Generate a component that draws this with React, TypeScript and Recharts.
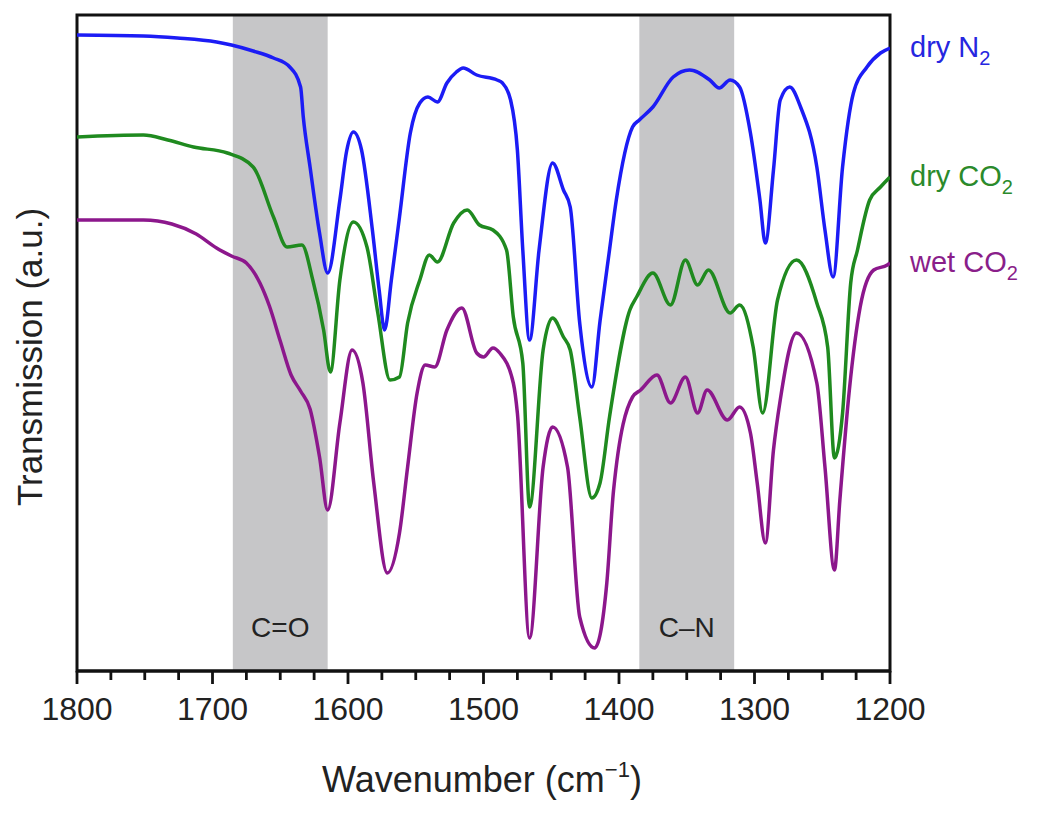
import React from 'react';
import { LineChart, Line, XAxis, YAxis, ReferenceArea, Label } from 'recharts';

// wavenumbers (cm-1) and transmission (a.u.)
const dryN2Wn = [1800, 1751, 1726, 1697, 1686, 1670, 1655, 1643, 1635, 1633, 1628, 1621, 1615, 1606, 1601, 1596, 1590, 1582, 1577, 1573, 1568, 1562, 1554, 1547, 1541, 1534, 1527, 1520, 1515, 1505, 1490, 1486, 1480, 1475, 1471, 1466, 1459, 1449, 1441, 1436, 1429, 1420, 1414, 1407, 1402, 1390, 1385, 1375, 1360, 1348, 1333, 1326, 1318, 1311, 1303, 1296, 1292, 1286, 1281, 1274, 1266, 1254, 1248, 1242, 1235, 1227, 1217, 1207, 1200];
const dryN2T = [636, 635, 633, 629, 626, 620, 613, 604, 584, 554, 504, 438, 398, 471, 520, 539, 521, 441, 381, 341, 391, 454, 538, 568, 574, 569, 588, 599, 603, 596, 591, 588, 571, 521, 421, 331, 421, 508, 481, 464, 348, 284, 350, 421, 471, 544, 551, 564, 594, 601, 591, 583, 591, 584, 538, 471, 428, 501, 571, 584, 564, 504, 441, 394, 504, 578, 604, 618, 623];

const dryCO2Wn = [1800, 1751, 1733, 1714, 1689, 1670, 1655, 1645, 1634, 1626, 1618, 1613, 1606, 1596, 1586, 1578, 1569, 1562, 1556, 1547, 1540, 1534, 1522, 1512, 1503, 1493, 1483, 1478, 1471, 1466, 1456, 1449, 1441, 1436, 1429, 1420, 1414, 1407, 1392, 1387, 1375, 1362, 1351, 1342, 1334, 1318, 1311, 1301, 1294, 1283, 1269, 1254, 1246, 1241, 1235, 1229, 1224, 1215, 1207, 1200];
const dryCO2T = [534, 536, 531, 524, 518, 504, 454, 424, 426, 391, 341, 299, 391, 449, 424, 358, 291, 294, 348, 391, 416, 409, 448, 461, 446, 441, 421, 354, 308, 164, 321, 353, 334, 321, 254, 173, 188, 254, 361, 374, 398, 366, 411, 386, 401, 358, 366, 324, 258, 371, 411, 368, 324, 213, 258, 388, 421, 471, 484, 494];

const wetCO2Wn = [1800, 1751, 1730, 1712, 1697, 1686, 1675, 1665, 1658, 1650, 1642, 1635, 1628, 1621, 1615, 1606, 1597, 1589, 1581, 1571, 1562, 1556, 1549, 1543, 1536, 1527, 1516, 1505, 1500, 1493, 1488, 1478, 1475, 1466, 1456, 1449, 1438, 1429, 1418, 1409, 1404, 1390, 1384, 1372, 1362, 1351, 1342, 1335, 1320, 1311, 1303, 1298, 1292, 1286, 1281, 1269, 1254, 1248, 1241, 1237, 1230, 1222, 1212, 1202, 1200];
const wetCO2T = [451, 451, 447, 437, 423, 415, 408, 388, 365, 330, 296, 280, 262, 214, 161, 248, 321, 288, 188, 98, 138, 204, 278, 306, 304, 341, 363, 318, 314, 323, 318, 288, 258, 33, 204, 244, 204, 54, 23, 88, 181, 274, 281, 296, 268, 294, 258, 281, 251, 264, 238, 188, 128, 221, 271, 338, 288, 204, 101, 171, 281, 364, 401, 406, 408];

const series = [
  { name: 'dry N', sub: '2', color: '#1c1cf5', text: '#2626e0', wn: dryN2Wn, t: dryN2T },
  { name: 'dry CO', sub: '2', color: '#1f8a1f', text: '#2b8a2b', wn: dryCO2Wn, t: dryCO2T },
  { name: 'wet CO', sub: '2', color: '#8c178c', text: '#8a1e8a', wn: wetCO2Wn, t: wetCO2T },
];

const bands = [
  { from: 1685, to: 1615, label: 'C=O' },
  { from: 1385, to: 1315, label: 'C\u2013N' },
];

const majorTicks = [1800, 1700, 1600, 1500, 1400, 1300, 1200];
const minorTicks = [1775, 1750, 1725, 1675, 1650, 1625, 1575, 1550, 1525, 1475, 1450, 1425, 1375, 1350, 1325, 1275, 1250, 1225];

const FONT = '"Liberation Sans", Arial, Helvetica, sans-serif';

const WnTick = (props: any) => {
  const { x, y, payload } = props;
  const major = majorTicks.includes(payload.value);
  return (
    <g>
      <line x1={x} x2={x} y1={y} y2={y + (major ? 13 : 9)} stroke="#111" strokeWidth={2.8} />
      {major && (
        <text x={x} y={y + 49} textAnchor="middle" fontSize={32} fontFamily={FONT} fill="#222">
          {payload.value}
        </text>
      )}
    </g>
  );
};

const App = () => {
  return (
    <LineChart
      width={1034}
      height={797}
      margin={{ top: 7, right: 152, bottom: 0, left: 0 }}
      style={{ fontFamily: FONT }}
    >
      <XAxis
        type="number"
        dataKey="wn"
        domain={[1200, 1800]}
        reversed
        allowDataOverflow
        ticks={[...majorTicks, ...minorTicks].sort((a, b) => b - a)}
        interval={0}
        tick={<WnTick />}
        tickSize={0}
        tickMargin={0}
        tickLine={false}
        axisLine={{ stroke: '#111', strokeWidth: 3 }}
        height={134}
      >
        <Label
          content={() => (
            <text x={474} y={784} textAnchor="middle" fontSize={36} fontFamily={FONT} fill="#222">
              Wavenumber (cm
              <tspan fontSize={22} dy={-15}>{'\u22121'}</tspan>
              <tspan dy={15}>)</tspan>
            </text>
          )}
        />
      </XAxis>
      <YAxis type="number" domain={[0, 656]} width={69} tick={false} axisLine={false} tickLine={false}>
        <Label
          content={() => (
            <text
              x={34}
              y={349}
              transform="rotate(-90, 34, 349)"
              textAnchor="middle"
              fontSize={35}
              fontFamily={FONT}
              fill="#222"
            >
              Transmission (a.u.)
            </text>
          )}
        />
      </YAxis>
      {bands.map((b) => (
        <ReferenceArea
          key={b.label}
          x1={b.from}
          x2={b.to}
          y1={0}
          y2={656}
          fill="#c6c6c8"
          fillOpacity={1}
          stroke="none"
          ifOverflow="hidden"
          label={{ value: b.label, position: 'insideBottom', offset: 34, fontSize: 28, fill: '#222', fontFamily: FONT }}
        />
      ))}
      {series.map((s) => {
        const pts = s.wn.map((w, i) => ({ wn: w, t: s.t[i] }));
        const last = pts.length - 1;
        return (
          <Line
            key={s.name}
            data={pts}
            dataKey="t"
            type="monotone"
            stroke={s.color}
            strokeWidth={3.5}
            dot={false}
            isAnimationActive={false}
            label={(p: any) =>
              p.index === last ? (
                <text key="lbl" x={p.x + 20} y={p.y + 9} fontSize={29} fontFamily={FONT} fill={s.text}>
                  {s.name}
                  <tspan fontSize={20} dy={8}>{s.sub}</tspan>
                </text>
              ) : null
            }
          />
        );
      })}
      <ReferenceArea x1={1800} x2={1200} y1={0} y2={656} fill="none" stroke="#111" strokeWidth={3} />
    </LineChart>
  );
};

export default App;
